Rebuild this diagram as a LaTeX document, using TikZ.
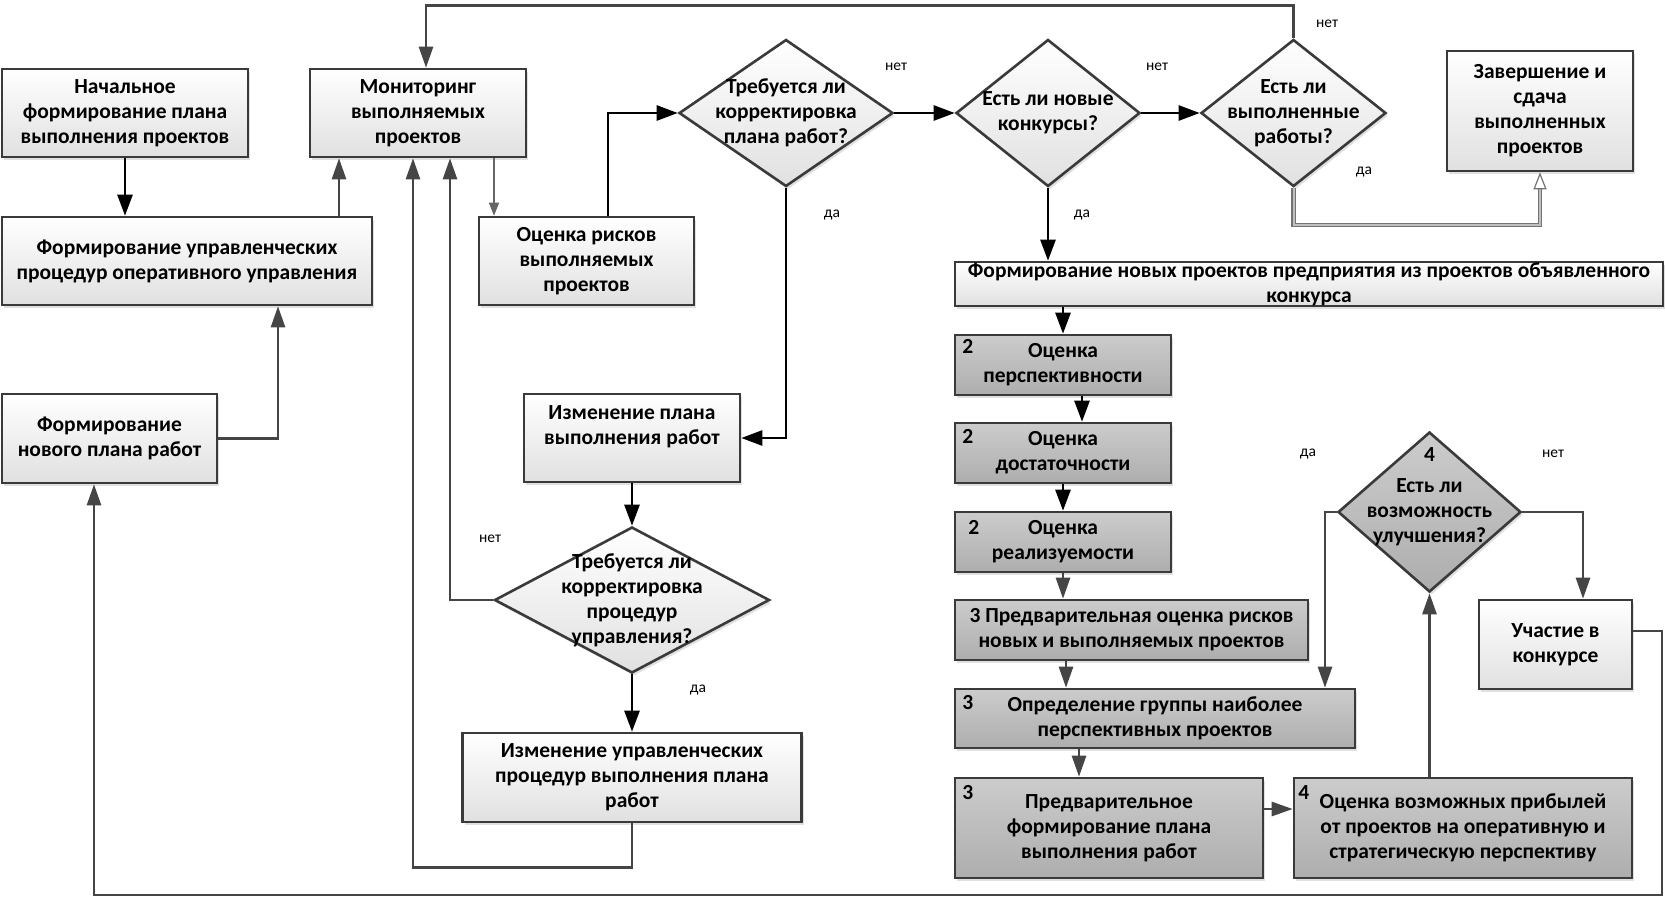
\documentclass[tikz,border=0pt]{standalone}
\usepackage{fontspec}
\setmainfont{Carlito}
\usetikzlibrary{arrows.meta,shapes.geometric,shadows}
\definecolor{bord}{HTML}{3A3A3A}
\definecolor{acol}{HTML}{454545}
\begin{document}
\begin{tikzpicture}[x=1pt,y=-1pt,
  txt/.style={font=\bfseries\fontsize{21.5}{25}\selectfont, align=center, text=black, inner sep=0pt},
  shad/.style={drop shadow={shadow xshift=2pt,shadow yshift=-3pt,fill=black!40,opacity=0.3}},
  box/.style={txt, draw=bord, line width=2.6pt, top color=white, bottom color=black!12, shad},
  gbox/.style={box, top color=black!20, bottom color=black!32},
  diam/.style={diamond, draw=bord, line width=2.6pt, top color=white, bottom color=black!12, inner sep=0pt, shad},
  gdiam/.style={diam, top color=black!20, bottom color=black!32},
  num/.style={font=\bfseries\fontsize{21.5}{24}\selectfont, inner sep=0pt},
  lab/.style={font=\fontsize{15.5}{18}\selectfont, inner sep=0pt},
  barr/.style={draw=black, line width=2.6pt, -{Triangle[length=21pt,width=15pt]}},
  garr/.style={draw=acol, line width=2.6pt, -{Triangle[length=21pt,width=14pt]}},
  tarr/.style={draw=black!60, line width=1.4pt, -{Triangle[length=13pt,width=10pt]}},
  dbl/.style={draw=black!55, double=black!25, double distance=2pt, line width=1.2pt, -{Triangle[open,length=17pt,width=13pt]}}
]
\useasboundingbox (0,0) rectangle (1665,898);
\fill[white] (0,0) rectangle (1665,898);

% left column
\node[box, minimum width=246pt, minimum height=88pt] (n1) at (125,113) {Начальное\\формирование плана\\выполнения проектов};
\node[box, minimum width=216pt, minimum height=88pt] (mon) at (418,113) {Мониторинг\\выполняемых\\проектов};
\node[box, minimum width=370pt, minimum height=88pt] (fup) at (187,261) {Формирование управленческих\\процедур оперативного управления};
\node[box, minimum width=215pt, minimum height=88pt] (orisk) at (586.5,261) {Оценка рисков\\выполняемых\\проектов};
\node[box, minimum width=215pt, minimum height=89pt] (newplan) at (109.5,438.5) {Формирование\\нового плана работ};
\node[box, minimum width=216pt, minimum height=88pt] (izplan) at (632,438) {Изменение плана\\выполнения работ\\\mbox{}};
\node[diam, minimum width=275pt, minimum height=146pt] (d5) at (632,600) {};
\node[txt] (d5t) at (d5.center) {Требуется ли\\корректировка\\процедур\\управления?};
\node[box, minimum width=339pt, minimum height=89pt] (izupr) at (632,777.5) {Изменение управленческих\\процедур выполнения плана\\работ};

% top row diamonds
\node[diam, minimum width=214pt, minimum height=147pt] (d1) at (786,113) {};
\node[txt] (d1t) at (d1.center) {Требуется ли\\корректировка\\плана работ?};
\node[diam, minimum width=184pt, minimum height=147pt] (d2) at (1048,113) {};
\node[txt] (d2t) at (d2.center) {Есть ли новые\\конкурсы?};
\node[diam, minimum width=185pt, minimum height=147pt] (d3) at (1293.5,113) {};
\node[txt] (d3t) at (d3.center) {Есть ли\\выполненные\\работы?};
\node[box, minimum width=186pt, minimum height=120pt] (zav) at (1540,111) {Завершение и\\сдача\\выполненных\\проектов};

% right column
\node[box, minimum width=708pt, minimum height=44pt] (newb) at (1309,284) {Формирование новых проектов предприятия из проектов объявленного\\конкурса};
\node[gbox, minimum width=216pt, minimum height=60pt] (b2a) at (1063,365) {Оценка\\перспективности};
\node[gbox, minimum width=216pt, minimum height=60pt] (b2b) at (1063,453) {Оценка\\достаточности};
\node[gbox, minimum width=216pt, minimum height=60pt] (b2c) at (1063,542) {Оценка\\реализуемости};
\node[gbox, minimum width=353pt, minimum height=60pt] (b3a) at (1131.5,630) {3 Предварительная оценка рисков\\новых и выполняемых проектов};
\node[gbox, minimum width=400pt, minimum height=59pt] (b3b) at (1155,718.5) {Определение группы наиболее\\перспективных проектов};
\node[gbox, minimum width=308pt, minimum height=100pt] (b3c) at (1109,828) {Предварительное\\формирование плана\\выполнения работ};
\node[gbox, minimum width=338pt, minimum height=100pt] (b4) at (1463,828) {Оценка возможных прибылей\\от проектов на оперативную и\\стратегическую перспективу};
\node[gdiam, minimum width=183pt, minimum height=160pt] (d4) at (1429.5,512) {};
\node[txt] (d4t) at ([yshift=15pt]d4.center) {4\\[6pt]Есть ли\\возможность\\улучшения?};
\node[box, minimum width=153pt, minimum height=89pt] (uch) at (1555.5,644.5) {Участие в\\конкурсе};

% stage numbers
\node[num] (nb2a) at ([xshift=14pt,yshift=-13pt]b2a.north west) {2};
\node[num] (nb2b) at ([xshift=14pt,yshift=-15pt]b2b.north west) {2};
\node[num] (nb2c) at ([xshift=20pt,yshift=-17pt]b2c.north west) {2};
\node[num] (nb3b) at ([xshift=14pt,yshift=-15pt]b3b.north west) {3};
\node[num] (nb3c) at ([xshift=14pt,yshift=-16pt]b3c.north west) {3};
\node[num] (nb4) at ([xshift=11pt,yshift=-16pt]b4.north west) {4};

% connectors
\draw[barr] (n1.south) -- (n1.south |- fup.north);
\draw[garr] ([xshift=152pt]fup.north) -- ([xshift=152pt]fup.north |- mon.south);
\draw[tarr] ([xshift=76pt]mon.south) -- ([xshift=76pt]mon.south |- orisk.north);
\draw[barr] ([xshift=21.5pt]orisk.north) |- (d1.west);
\draw[barr] (d1.east) -- (d2.west);
\draw[barr] (d2.east) -- (d3.west);
\draw[barr] (d2.south) -- (d2.south |- newb.north);
\draw[dbl] (d3.south) -- ++(0,37) -| (zav.south);
\draw[garr] (d3.north) -- ++(0,-33) -| ([xshift=8pt]mon.north);
\draw[barr] (d1.south) |- (izplan.east);
\draw[barr] (izplan.south) -- (d5.north);
\draw[barr] (d5.south) -- (izupr.north);
\draw[garr] (d5.west) -| ([xshift=32pt]mon.south);
\draw[garr] (izupr.south) -- ++(0,44) -| ([xshift=-5pt]mon.south);
\draw[garr] (newplan.east) -| ([xshift=91pt]fup.south);
\draw[garr] ([yshift=13.5pt]uch.east) -| (1662,895) -| ([xshift=-15.5pt]newplan.south);
\draw[barr] (b2a.north |- newb.south) -- (b2a.north);
\draw[barr] ([xshift=19pt]b2a.south) -- ([xshift=19pt]b2b.north);
\draw[barr] (b2b.south) -- (b2c.north);
\draw[garr] (b2c.south) -- (b2c.south |- b3a.north);
\draw[garr] ([xshift=-65.5pt]b3a.south) -- ([xshift=-65.5pt]b3a.south |- b3b.north);
\draw[garr] (d4.west) -| ([xshift=170pt]b3b.north);
\draw[garr] (d4.east) -| ([xshift=27.5pt]uch.north);
\draw[garr] ([xshift=-76pt]b3b.south) -- ([xshift=-76pt]b3b.south |- b3c.north);
\draw[garr] ([yshift=19pt]b3c.east) -- ([yshift=19pt]b3c.east -| b4.west);
\draw[garr] ([xshift=-33.5pt]b4.north) -- ([xshift=-33.5pt]b4.north |- d4.south);

% labels
\node[lab] (l1) at (896,67) {нет};
\node[lab] (l2) at (832,215) {да};
\node[lab] (l3) at (1157,67) {нет};
\node[lab] (l4) at (1327,24) {нет};
\node[lab] (l5) at (1364,172) {да};
\node[lab] (l6) at (1082,215) {да};
\node[lab] (l7) at (490,539) {нет};
\node[lab] (l8) at (698,690) {да};
\node[lab] (l9) at (1308,454) {да};
\node[lab] (l10) at (1553,454) {нет};
\end{tikzpicture}
\end{document}
